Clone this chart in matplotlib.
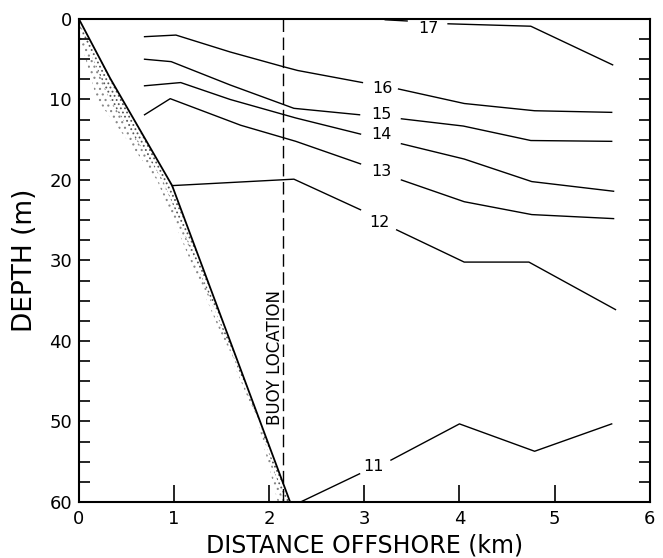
import matplotlib
matplotlib.use("Agg")
import matplotlib.pyplot as plt
from matplotlib.ticker import MultipleLocator
import numpy as np

# isotherm lines (distance km, depth m), label position per line
iso_names = ['17', '16', '15', '14', '13', '12', '11']
iso_left_x = [[3.22, 3.45],
              [0.69, 1.02, 1.59, 2.14, 2.30, 2.98],
              [0.69, 0.97, 1.59, 2.26, 2.95],
              [0.69, 1.07, 1.59, 2.28, 2.96],
              [0.69, 0.96, 1.70, 2.28, 2.96],
              [0.98, 2.26, 2.96],
              [2.33, 2.95]]
iso_left_y = [[0.1, 0.25],
              [2.2, 2.0, 4.1, 5.9, 6.4, 7.9],
              [5.0, 5.3, 8.2, 11.1, 11.9],
              [8.3, 7.9, 10.0, 12.3, 14.3],
              [11.9, 9.9, 13.2, 15.2, 18.0],
              [20.7, 19.9, 23.7],
              [60.0, 56.5]]
iso_right_x = [[3.88, 4.75, 5.61],
               [3.36, 4.05, 4.79, 5.60],
               [3.39, 4.04, 4.75, 5.60],
               [3.39, 4.05, 4.76, 5.62],
               [3.39, 4.05, 4.76, 5.62],
               [3.34, 4.05, 4.73, 5.64],
               [3.28, 4.00, 4.79, 5.60]]
iso_right_y = [[0.6, 0.9, 5.7],
               [8.7, 10.5, 11.4, 11.6],
               [12.4, 13.3, 15.1, 15.2],
               [15.5, 17.4, 20.2, 21.4],
               [20.0, 22.7, 24.3, 24.8],
               [26.2, 30.2, 30.2, 36.1],
               [54.8, 50.3, 53.7, 50.3]]
label_x = [3.67, 3.19, 3.18, 3.18, 3.18, 3.16, 3.10]
label_y = [1.2, 8.6, 11.9, 14.3, 19.0, 25.3, 55.6]

# bottom profile and stippled band
bottom_x = [0.0, 0.33, 0.98, 2.22]
bottom_y = [0.0, 7.4, 20.7, 60.0]
band_x = [0.0, 0.0, 0.19, 0.82, 1.17, 1.88, 2.09]
band_y = [0.0, 2.0, 10.0, 20.0, 30.0, 50.0, 60.0]
buoy_x = 2.15

plt.rcParams['font.family'] = 'DejaVu Sans'
plt.rcParams['hatch.linewidth'] = 0.8
plt.rcParams['hatch.color'] = '#555555'

fig = plt.figure(figsize=(6.63, 5.58), dpi=100)
ax = fig.add_axes([0.119, 0.1004, 0.861, 0.8656])

# stipple: sparse outer band, denser near the bottom line
yy = np.array(band_y, dtype=float)
xb = np.interp(yy, bottom_y, bottom_x)
xm = (np.array(band_x) + xb) / 2
ax.fill_betweenx(yy, band_x, xm, facecolor='none', edgecolor='#888888',
                 hatch='...', linewidth=0)
ax.fill_betweenx(yy, xm, xb, facecolor='none', edgecolor='#555555',
                 hatch='....', linewidth=0)
ax.plot(bottom_x, bottom_y, color='black', lw=1.3)

ax.plot([buoy_x, buoy_x], [0, 60], color='black', lw=1.0, linestyle=(0, (9, 4)))
ax.text(buoy_x - 0.09, 42, 'BUOY LOCATION', rotation=90, ha='center', va='center',
        fontsize=12)

for i in range(len(iso_names)):
    ax.plot(iso_left_x[i], iso_left_y[i], color='black', lw=1.0)
    ax.plot(iso_right_x[i], iso_right_y[i], color='black', lw=1.0)
    ax.text(label_x[i], label_y[i], iso_names[i], ha='center', va='center', fontsize=11.5)

ax.set_xlim(0, 6)
ax.set_ylim(60, 0)
ax.set_xticks([0, 1, 2, 3, 4, 5, 6])
ax.set_yticks([0, 10, 20, 30, 40, 50, 60])
ax.yaxis.set_minor_locator(MultipleLocator(2.5))
ax.tick_params(axis='x', direction='in', length=12, width=1.2, labelsize=13, pad=6)
ax.tick_params(axis='y', which='both', direction='in', length=8, width=1.2,
               labelsize=13, right=True, pad=5)
for s in ax.spines.values():
    s.set_linewidth(1.5)

ax.set_xlabel('DISTANCE OFFSHORE (km)', fontsize=17, labelpad=4)
ax.set_ylabel('DEPTH (m)', fontsize=19, labelpad=8)

fig.savefig('out.png', dpi=100)
